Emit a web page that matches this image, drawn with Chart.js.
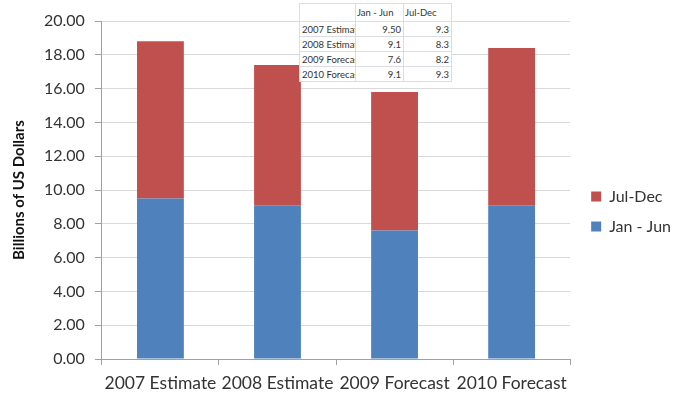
<!DOCTYPE html>
<html lang="en">
<head>
<meta charset="utf-8">
<script src="https://cdn.jsdelivr.net/npm/chart.js"></script>
<style>
  html, body { margin: 0; padding: 0; background: #fff; }
  .wrap { position: relative; width: 675px; height: 398px; }
  #chart { position: absolute; left: 0; top: 0; }
  table.inset {
    position: absolute; left: 299px; top: 3px; width: 152px;
    border-collapse: collapse; background: #fff;
    border: 1px solid #a9a9d0;
    font-family: 'Lato', sans-serif; font-size: 9.5px; color: #333;
    table-layout: fixed;
  }
  table.inset td {
    border: 1px solid #dcdce6; padding: 0 2px; height: 14px;
    white-space: nowrap; overflow: hidden;
  }
  table.inset td.num { text-align: right; }
  table.inset tr.head td { height: 17px; padding-left: 1px; }
</style>
</head>
<body>
<div class="wrap">
  <canvas id="chart" width="675" height="398"></canvas>
  <table class="inset" id="inset">
    <colgroup><col style="width:56px"><col style="width:48px"><col style="width:48px"></colgroup>
  </table>
</div>
<script>
  // data
  var categories = ['2007 Estimate', '2008 Estimate', '2009 Forecast', '2010 Forecast'];
  var janJun = [9.5, 9.1, 7.6, 9.1];
  var julDec = [9.3, 8.3, 8.2, 9.3];
  // what the little data table shows
  var janJunText = ['9.50', '9.1', '7.6', '9.1'];
  var julDecText = ['9.3', '8.3', '8.2', '9.3'];
  var yTicks = [0, 2, 4, 6, 8, 10, 12, 14, 16, 18, 20];

  // build the inset table
  var tbl = document.getElementById('inset');
  var html = '<tr class="head"><td></td><td>Jan - Jun</td><td>Jul-Dec</td></tr>';
  categories.forEach(function (c, i) {
    html += '<tr><td>' + c + '</td><td class="num">' + janJunText[i] + '</td><td class="num">' + julDecText[i] + '</td></tr>';
  });
  tbl.insertAdjacentHTML('beforeend', html);

  var font = { family: 'Lato', size: 16 };

  new Chart(document.getElementById('chart'), {
    type: 'bar',
    data: {
      labels: categories,
      datasets: [
        { label: 'Jan - Jun', data: janJun, backgroundColor: '#4F81BD' },
        { label: 'Jul-Dec', data: julDec, backgroundColor: '#C0504D' }
      ]
    },
    options: {
      responsive: false,
      animation: false,
      categoryPercentage: 1,
      barPercentage: 0.4,
      layout: { padding: { top: 21, bottom: -4, left: 4, right: -6 } },
      plugins: {
        tooltip: { enabled: false },
        legend: {
          position: 'right',
          reverse: true,
          labels: {
            font: { family: 'Lato', size: 16 }, color: '#333', boxWidth: 10, boxHeight: 10, padding: 14
          }
        }
      },
      scales: {
        x: {
          stacked: true,
          grid: { drawOnChartArea: false, drawTicks: true, tickLength: 6, color: '#a0a0a0' },
          border: { color: '#a0a0a0' },
          ticks: { font: { family: 'Lato', size: 17.5 }, color: '#333', padding: 8, maxRotation: 0, autoSkip: false }
        },
        y: {
          stacked: true,
          min: 0, max: 20,
          afterBuildTicks: function (scale) {
            scale.ticks = yTicks.map(function (v) { return { value: v }; });
          },
          grid: { color: '#d9d9d9', tickLength: 7, tickColor: '#a0a0a0' },
          border: { color: '#a0a0a0' },
          ticks: {
            font: font, color: '#333', padding: 10,
            callback: function (v) { return Number(v).toFixed(2); }
          },
          title: {
            display: true, text: 'Billions of US Dollars',
            font: { family: 'Lato', size: 15, weight: 'bold' }, color: '#111', padding: 6
          }
        },
        gap: {
          position: 'right',
          display: true,
          grid: { display: false },
          border: { display: false },
          ticks: { display: false },
          afterFit: function (scale) { scale.width = 7; }
        }
      }
    }
  });
</script>
</body>
</html>
